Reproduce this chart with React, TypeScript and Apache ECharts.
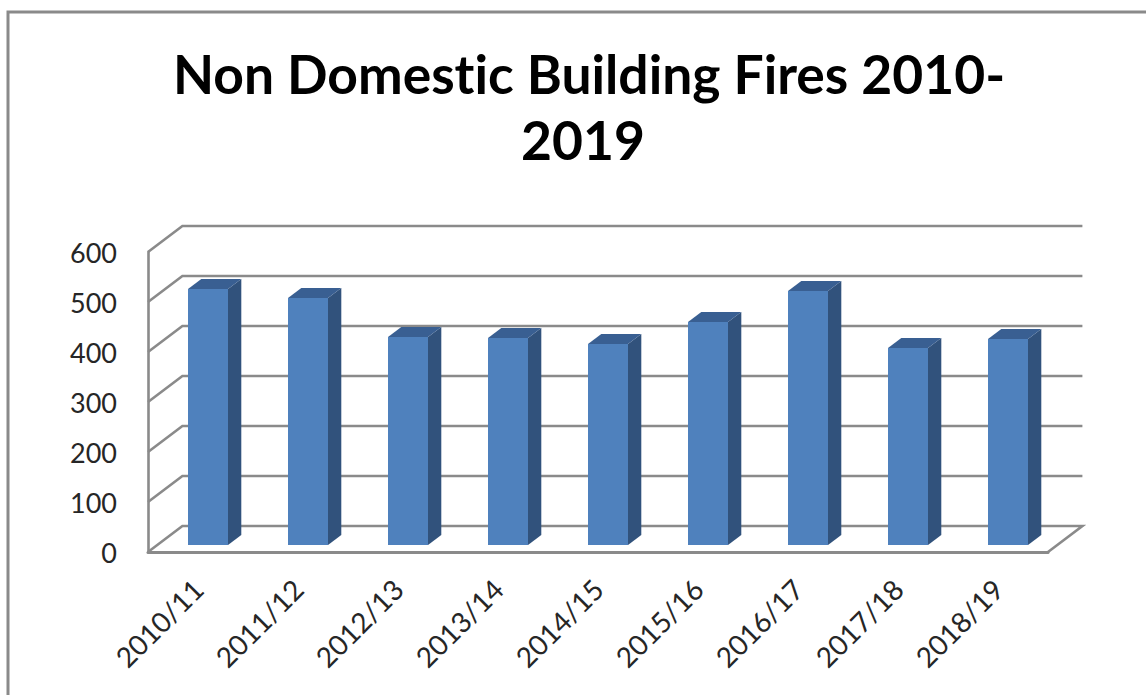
import React, { useEffect, useRef } from "react";
import * as echarts from "echarts";

const titleLine1 = "Non Domestic Building Fires 2010-";
const titleLine2 = "2019";
const categories = ["2010/11", "2011/12", "2012/13", "2013/14", "2014/15", "2015/16", "2016/17", "2017/18", "2018/19"];
const fires = [512, 494, 416, 414, 402, 446, 508, 394, 412];
const yTicks = [0, 100, 200, 300, 400, 500, 600];

const GREY = "#8a8a8a";
const WALL_DX = 34.4;
const WALL_DY = -26;
const BAR_SHIFT_X = 10;
const BAR_SHIFT_Y = -7;
const BAR_DX = 13.3;
const BAR_DY = -10;
const BAR_FRACTION = 0.4;
const titleStyle = { fontFamily: "Lato", fontWeight: "bold", fontSize: 53.4, color: "#000000" };

export default function App() {
  const ref = useRef<HTMLDivElement>(null);
  useEffect(() => {
    const chart = echarts.init(ref.current!, undefined, { renderer: "svg" });
    chart.setOption({
      animation: false,
      backgroundColor: "#ffffff",
      title: [
        { text: titleLine1, left: 584, top: 41, textAlign: "center", textStyle: titleStyle },
        { text: titleLine2, left: 578, top: 107, textAlign: "center", textStyle: titleStyle },
      ],
      grid: { left: 148, right: 98, top: 252, bottom: 143, containLabel: false },
      xAxis: {
        type: "category",
        data: categories,
        boundaryGap: true,
        axisTick: { show: false },
        axisLine: { show: true, lineStyle: { color: GREY, width: 3 } },
        axisLabel: { rotate: 45, margin: 32, fontFamily: "Lato", fontSize: 28, color: "#262626", interval: 0 },
      },
      yAxis: {
        type: "value",
        min: 0,
        max: 600,
        interval: 100,
        splitLine: { show: false },
        axisTick: { show: false },
        axisLine: { show: true, lineStyle: { color: GREY, width: 2.6 } },
        axisLabel: { margin: 31, fontFamily: "Lato", fontSize: 27, color: "#262626" },
      },
      graphic: [
        {
          type: "polyline",
          silent: true,
          shape: { points: [[8, 695], [8, 12], [1146, 12]] },
          style: { stroke: "#8a8a8a", lineWidth: 3, fill: "none" },
        },
      ],
      series: [
        {
          type: "custom",
          z: 1,
          silent: true,
          data: yTicks.map((v) => [0, v]),
          encode: { x: 0, y: 1 },
          renderItem: (params: any, api: any) => {
            const v = api.value(1);
            const y = api.coord([0, v])[1];
            const { x, width } = params.coordSys;
            const pts = [
              [x, y],
              [x + WALL_DX, y + WALL_DY],
              [x + width + WALL_DX, y + WALL_DY],
            ];
            if (v === 0) pts.push([x + width, y]);
            return { type: "polyline", shape: { points: pts }, style: { stroke: GREY, lineWidth: 2.6, fill: "none" } };
          },
        },
        {
          type: "custom",
          z: 3,
          silent: true,
          data: fires.map((v, i) => [i, v]),
          encode: { x: 0, y: 1 },
          renderItem: (_params: any, api: any) => {
            const i = api.value(0);
            const top = api.coord([i, api.value(1)]);
            const base = api.coord([i, 0]);
            const w = api.size([1, 0])[0] * BAR_FRACTION;
            const l = top[0] - w / 2 + BAR_SHIFT_X;
            const r = l + w;
            const t = top[1] + BAR_SHIFT_Y;
            const b = base[1] + BAR_SHIFT_Y;
            return {
              type: "group",
              children: [
                {
                  type: "polygon",
                  shape: { points: [[r, t], [r + BAR_DX, t + BAR_DY], [r + BAR_DX, b + BAR_DY], [r, b]] },
                  style: { fill: "#31527c" },
                },
                {
                  type: "polygon",
                  shape: { points: [[l, t], [l + BAR_DX, t + BAR_DY], [r + BAR_DX, t + BAR_DY], [r, t]] },
                  style: { fill: "#395f92" },
                },
                {
                  type: "rect",
                  shape: { x: l, y: t, width: w, height: b - t },
                  style: { fill: "#4f81bd" },
                },
              ],
            };
          },
        },
      ],
    });
    return () => chart.dispose();
  }, []);
  return (
    <div
      ref={ref}
      style={{ position: "absolute", left: 0, top: 0, width: 1146, height: 695, fontVariantLigatures: "none" }}
    />
  );
}
